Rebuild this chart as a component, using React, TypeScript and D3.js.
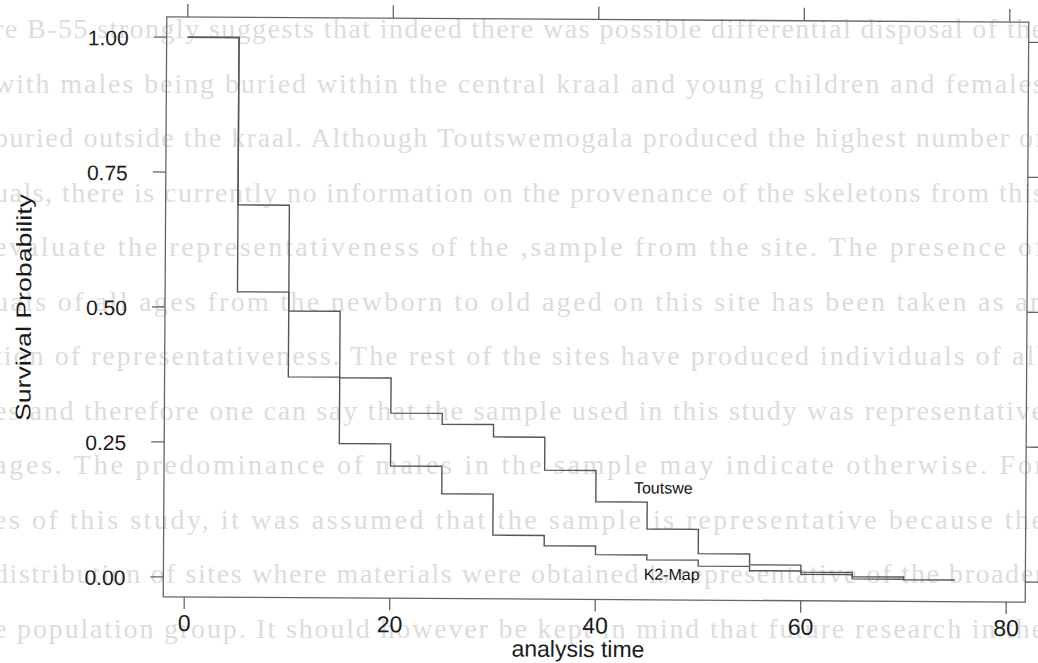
import React from "react";
import * as d3 from "d3";

// Kaplan-Meier estimates (5-year age steps)
const times = [0, 5, 10, 15, 20, 25, 30, 35, 40, 45, 50, 55, 60, 65, 70];
const toutswe = [1.0, 0.69, 0.494, 0.371, 0.306, 0.286, 0.263, 0.202, 0.144, 0.094, 0.049, 0.029, 0.016, 0.008, 0.003];
const k2map = [1.0, 0.529, 0.372, 0.249, 0.208, 0.157, 0.081, 0.062, 0.046, 0.037, 0.026, 0.018, 0.012, 0.004];
const toutsweEnd = 75;
const k2mapEnd = 70;

const xTicks = [0, 20, 40, 60, 80];
const yTicks = [0, 0.25, 0.5, 0.75, 1];

const curveLabels = [
  { name: "Toutswe", t: 43.7, s: 0.16 },
  { name: "K2-Map", t: 44.7, s: 0.0 },
];

// text from the other side of the page showing through the scan
const bgLines = [
  "re B-55 strongly suggests that indeed there was possible differential disposal of the",
  "with males being buried within the central kraal and young children and females",
  "buried outside the kraal. Although Toutswemogala produced the highest number of",
  "uals, there is currently no information on the provenance of the skeletons from this",
  "evaluate the representativeness of the ,sample from the site. The presence of",
  "uals of all ages from the newborn to old aged on this site has been taken as an",
  "tion of representativeness. The rest of the sites have produced individuals of all",
  "es and therefore one can say that the sample used in this study was representative",
  "ages. The predominance of males in the sample may indicate otherwise. For",
  "es of this study, it was assumed that the sample is representative because the",
  "distribution of sites where materials were obtained is representative of the broader",
  "e population group. It should however be kept in mind that future research in the",
];

const width = 1038;
const height = 663;
const box = { left: 165, right: 1027, top: 19.5, bottom: 599.5 };

function steps(ts: number[], vals: number[], end: number) {
  const pts = vals.map((v, i) => [ts[i], v] as [number, number]);
  pts.push([end, vals[vals.length - 1]]);
  return pts;
}

export default function App() {
  const x = d3.scaleLinear().domain([0, 80]).range([186, 1008]);
  const y = d3.scaleLinear().domain([0, 1]).range([579.5, 39.75]);

  const line = d3
    .line<[number, number]>()
    .x((d) => x(d[0]))
    .y((d) => y(d[1]))
    .curve(d3.curveStepAfter);

  const axisCol = "#666";
  const font = "'Liberation Sans', Arial, sans-serif";

  return (
    <svg
      width={width}
      height={height}
      viewBox={`0 0 ${width} ${height}`}
      style={{ position: "absolute", left: 0, top: 0, background: "#fff" }}
    >
      <rect width={width} height={height} fill="#fff" />
      <g fontFamily="'Liberation Serif', 'Times New Roman', serif" fontSize={28} fill="#dcdcdc">
        {bgLines.map((t, i) => (
          <text key={i} x={-6} y={38 + i * 54.5} textLength={1050} lengthAdjust="spacing">
            {t}
          </text>
        ))}
      </g>

      {/* scan is slightly tilted */}
      <g transform="rotate(0.35 597 310)">
        <rect
          x={box.left}
          y={box.top}
          width={box.right - box.left}
          height={box.bottom - box.top}
          fill="none"
          stroke={axisCol}
          strokeWidth={1.3}
        />

        {yTicks.map((t) => (
          <g key={"y" + t}>
            <line x1={box.left - 13} x2={box.left} y1={y(t)} y2={y(t)} stroke={axisCol} strokeWidth={1.3} />
            <line x1={box.right} x2={box.right + 13} y1={y(t)} y2={y(t)} stroke={axisCol} strokeWidth={1.3} />
            <text x={127} y={y(t) + 8.5} textAnchor="end" fontFamily={font} fontSize={21} fill="#1a1a1a">
              {t.toFixed(2)}
            </text>
          </g>
        ))}

        {xTicks.map((t) => (
          <g key={"x" + t}>
            <line x1={x(t)} x2={x(t)} y1={box.bottom} y2={box.bottom + 12} stroke={axisCol} strokeWidth={1.3} />
            <line x1={x(t)} x2={x(t)} y1={box.top} y2={box.top - 13} stroke={axisCol} strokeWidth={1.3} />
            <text x={x(t)} y={633.5} textAnchor="middle" fontFamily={font} fontSize={23} fill="#1a1a1a">
              {t}
            </text>
          </g>
        ))}

        <path d={line(steps(times, toutswe, toutsweEnd)) || ""} fill="none" stroke="#555" strokeWidth={1.4} />
        <path d={line(steps(times, k2map, k2mapEnd)) || ""} fill="none" stroke="#555" strokeWidth={1.4} />

        {curveLabels.map((l) => (
          <text key={l.name} x={x(l.t)} y={y(l.s)} fontFamily={font} fontSize={16} fill="#111">
            {l.name}
          </text>
        ))}

        <text x={580} y={657} textAnchor="middle" fontFamily={font} fontSize={23} fill="#1a1a1a">
          analysis time
        </text>
        <text
          transform="translate(31 311) rotate(-90)"
          textAnchor="middle"
          fontFamily={font}
          fontSize={21}
          textLength={227}
          lengthAdjust="spacingAndGlyphs"
          fill="#1a1a1a"
        >
          Survival Probability
        </text>
      </g>
    </svg>
  );
}
